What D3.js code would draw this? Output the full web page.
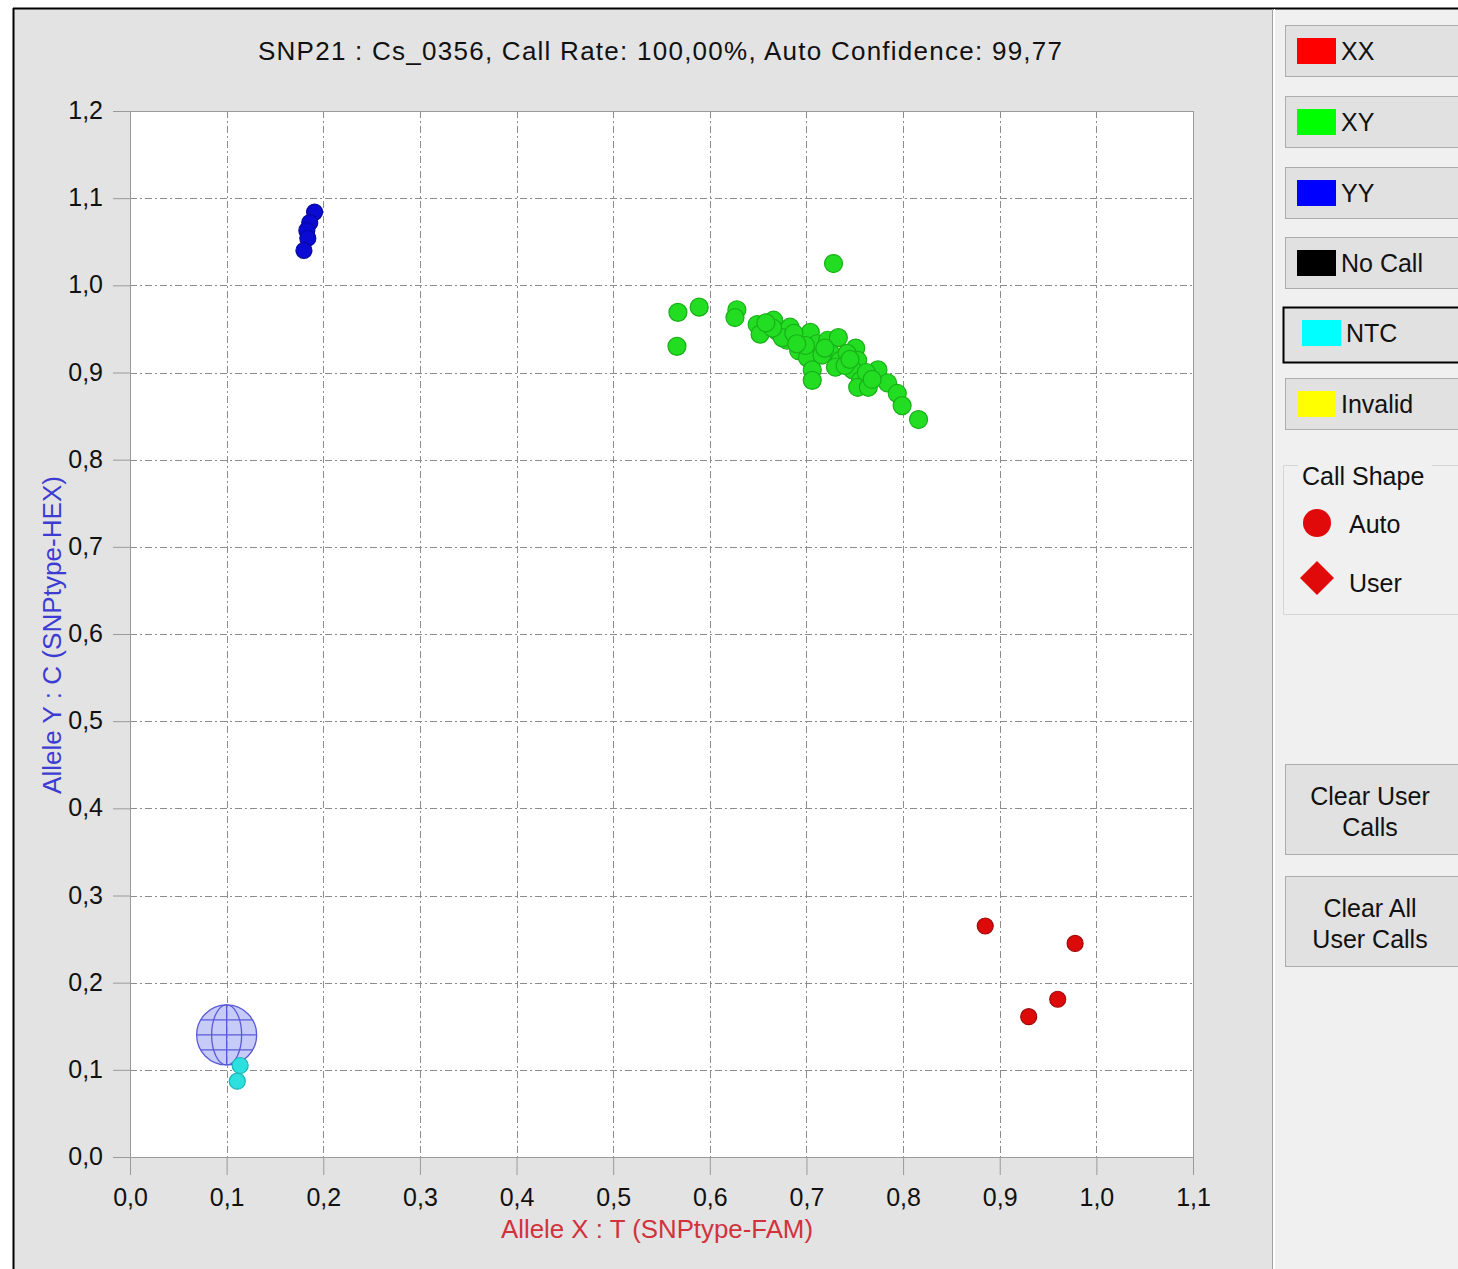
<!DOCTYPE html>
<html>
<head>
<meta charset="utf-8">
<script src="https://cdn.jsdelivr.net/npm/d3@7"></script>
<style>
  html, body { margin: 0; padding: 0; background: #ffffff; }
  svg { display: block; font-family: "Liberation Sans", Arial, sans-serif; }
</style>
</head>
<body>
<div id="chart"></div>
<script>
// chart data
const titleText = "SNP21 : Cs_0356, Call Rate: 100,00%, Auto Confidence: 99,77";
const xLabel = "Allele X : T (SNPtype-FAM)";
const yLabel = "Allele Y : C (SNPtype-HEX)";
const xTicks = [0, 0.1, 0.2, 0.3, 0.4, 0.5, 0.6, 0.7, 0.8, 0.9, 1.0, 1.1];
const yTicks = [0, 0.1, 0.2, 0.3, 0.4, 0.5, 0.6, 0.7, 0.8, 0.9, 1.0, 1.1, 1.2];

// XX calls (red)
const xxPoints = [
  [0.885, 0.265], [0.978, 0.245], [0.960, 0.181], [0.930, 0.161]
];
// YY calls (blue)
const yyPoints = [
  [0.191, 1.084], [0.186, 1.072], [0.183, 1.063], [0.184, 1.054], [0.180, 1.040]
];
// NTC (cyan)
const ntcPoints = [
  [0.114, 0.105], [0.111, 0.087]
];
// NTC centroid marker (globe)
const ntcCentroid = [0.100, 0.140];
// XY calls (green)
const xyPoints = [
  [0.728, 1.025], [0.567, 0.969], [0.589, 0.975], [0.566, 0.930],
  [0.628, 0.972], [0.626, 0.963], [0.649, 0.955], [0.652, 0.944],
  [0.666, 0.960], [0.670, 0.947], [0.683, 0.952], [0.680, 0.937],
  [0.694, 0.940], [0.704, 0.946], [0.711, 0.933], [0.692, 0.925],
  [0.701, 0.917], [0.706, 0.903], [0.706, 0.891], [0.722, 0.937],
  [0.733, 0.940], [0.725, 0.922], [0.735, 0.914], [0.730, 0.906],
  [0.751, 0.928], [0.753, 0.914], [0.748, 0.903], [0.756, 0.891],
  [0.753, 0.883], [0.764, 0.883], [0.774, 0.903], [0.784, 0.888],
  [0.794, 0.876], [0.799, 0.862], [0.816, 0.846], [0.675, 0.940],
  [0.699, 0.931], [0.716, 0.920], [0.742, 0.922], [0.665, 0.951],
  [0.687, 0.945], [0.740, 0.908], [0.762, 0.900], [0.658, 0.957],
  [0.690, 0.933], [0.719, 0.928], [0.745, 0.915], [0.768, 0.892]
];

// legend entries
const legendNames = ["XX", "XY", "YY", "No Call", "NTC", "Invalid"];
const legendColors = ["#ff0000", "#00ff00", "#0000ff", "#000000", "#00ffff", "#ffff00"];

// layout
const W = 1458, H = 1269;
const PLOT = { left: 130, right: 1193, top: 111, bottom: 1157 };
const fmt = (d) => d3.format(".1f")(d).replace(".", ",");

const svg = d3.select("#chart").append("svg")
  .attr("width", W).attr("height", H)
  .attr("viewBox", `0 0 ${W} ${H}`);

// window background + frame
svg.append("rect").attr("x", 0).attr("y", 0).attr("width", W).attr("height", H).attr("fill", "#ffffff");
svg.append("rect").attr("x", 14).attr("y", 9).attr("width", 1259).attr("height", H).attr("fill", "#e3e3e3");
svg.append("rect").attr("x", 1275).attr("y", 9).attr("width", W - 1275).attr("height", H).attr("fill", "#f0f0f0");
svg.append("line").attr("x1", 13).attr("x2", W).attr("y1", 8.5).attr("y2", 8.5).attr("stroke", "#000").attr("stroke-width", 2);
svg.append("line").attr("x1", 13.5).attr("x2", 13.5).attr("y1", 8).attr("y2", H).attr("stroke", "#000").attr("stroke-width", 2);
svg.append("line").attr("x1", 1272.5).attr("x2", 1272.5).attr("y1", 9).attr("y2", H).attr("stroke", "#a0a0a0");
svg.append("line").attr("x1", 1274.5).attr("x2", 1274.5).attr("y1", 9).attr("y2", H).attr("stroke", "#ffffff");

// scales
const x = d3.scaleLinear().domain([0, 1.1]).range([PLOT.left, PLOT.right]);
const y = d3.scaleLinear().domain([0, 1.2]).range([PLOT.bottom, PLOT.top]);

// plot background
svg.append("rect")
  .attr("x", PLOT.left).attr("y", PLOT.top)
  .attr("width", PLOT.right - PLOT.left).attr("height", PLOT.bottom - PLOT.top)
  .attr("fill", "#ffffff");

// grid lines (dash-dot)
const grid = svg.append("g").attr("stroke", "#8c8c8c").attr("stroke-width", 1)
  .attr("stroke-dasharray", "7,3,2,3");
grid.selectAll(".gx").data(xTicks.slice(1, -1)).join("line")
  .attr("x1", (d) => Math.round(x(d)) + 0.5).attr("x2", (d) => Math.round(x(d)) + 0.5)
  .attr("y1", PLOT.top).attr("y2", PLOT.bottom);
grid.selectAll(".gy").data(yTicks.slice(1, -1)).join("line")
  .attr("x1", PLOT.left).attr("x2", PLOT.right)
  .attr("y1", (d) => Math.round(y(d)) + 0.5).attr("y2", (d) => Math.round(y(d)) + 0.5);

// plot border
svg.append("rect")
  .attr("x", PLOT.left + 0.5).attr("y", PLOT.top + 0.5)
  .attr("width", PLOT.right - PLOT.left).attr("height", PLOT.bottom - PLOT.top)
  .attr("fill", "none").attr("stroke", "#9a9a9a");

// axes
const axisFont = "25px";
svg.append("g")
  .attr("transform", `translate(0,${PLOT.bottom})`)
  .call(d3.axisBottom(x).tickValues(xTicks).tickFormat(fmt).tickSize(18).tickSizeOuter(0).tickPadding(12))
  .call((g) => g.select(".domain").remove())
  .call((g) => g.selectAll(".tick line").attr("stroke", "#9a9a9a"))
  .call((g) => g.selectAll(".tick text").attr("font-size", axisFont).attr("fill", "#111")
    .attr("font-family", "Liberation Sans, Arial, sans-serif").attr("dy", "0.75em"));

svg.append("g")
  .attr("transform", `translate(${PLOT.left},0)`)
  .call(d3.axisLeft(y).tickValues(yTicks).tickFormat(fmt).tickSize(17).tickSizeOuter(0).tickPadding(10))
  .call((g) => g.select(".domain").remove())
  .call((g) => g.selectAll(".tick line").attr("stroke", "#9a9a9a"))
  .call((g) => g.selectAll(".tick text").attr("font-size", axisFont).attr("fill", "#111")
    .attr("font-family", "Liberation Sans, Arial, sans-serif").attr("dy", "0.3em"));

// title and axis labels
svg.append("text").text(titleText)
  .attr("x", 660).attr("y", 60).attr("text-anchor", "middle")
  .attr("font-size", "26px").attr("fill", "#111")
  .attr("textLength", 804).attr("lengthAdjust", "spacing");

svg.append("text").text(xLabel)
  .attr("x", 657).attr("y", 1238).attr("text-anchor", "middle")
  .attr("font-size", "26px").attr("fill", "#d2323c")
  .attr("textLength", 312).attr("lengthAdjust", "spacingAndGlyphs");

svg.append("text").text(yLabel)
  .attr("transform", "translate(61,635) rotate(-90)")
  .attr("text-anchor", "middle")
  .attr("font-size", "26px").attr("fill", "#3c3cd2")
  .attr("textLength", 318).attr("lengthAdjust", "spacingAndGlyphs");

// NTC centroid globe
const cx = x(ntcCentroid[0]), cy = y(ntcCentroid[1]), R = 30;
const globe = svg.append("g").attr("transform", `translate(${cx},${cy})`)
  .attr("fill", "none").attr("stroke", "#5a5ad8").attr("stroke-width", 1.3);
globe.append("circle").attr("r", R).attr("fill", "#b4b9f5").attr("fill-opacity", 0.75);
[-R * 0.5, 0, R * 0.5].forEach((dy) => {
  const hw = Math.sqrt(R * R - dy * dy);
  globe.append("line").attr("x1", -hw).attr("x2", hw).attr("y1", dy).attr("y2", dy);
});
globe.append("line").attr("x1", 0).attr("x2", 0).attr("y1", -R).attr("y2", R);
globe.append("ellipse").attr("rx", R * 0.5).attr("ry", R);

// points
function drawPoints(data, fill, stroke, r) {
  svg.append("g").selectAll("circle").data(data).join("circle")
    .attr("cx", (d) => x(d[0])).attr("cy", (d) => y(d[1])).attr("r", r)
    .attr("fill", fill).attr("stroke", stroke).attr("stroke-width", 1.2);
}
drawPoints(xyPoints, "#22dd22", "#19b019", 9);
drawPoints(yyPoints, "#0a0ad2", "#0808a0", 8);
drawPoints(xxPoints, "#dd0a0a", "#a00808", 8);
drawPoints(ntcPoints, "#2de0e0", "#1cb5b5", 8);

// right panel: legend buttons
const btnTop = [25, 96, 167, 237, 307, 378];
const legend = svg.append("g");
legendNames.forEach((name, i) => {
  const g = legend.append("g");
  const selected = name === "NTC";
  g.append("rect")
    .attr("x", selected ? 1283.5 : 1285.5).attr("y", btnTop[i] + 0.5)
    .attr("width", 200).attr("height", selected ? 55 : 51)
    .attr("fill", "#e1e1e1")
    .attr("stroke", selected ? "#000" : "#adadad").attr("stroke-width", selected ? 2 : 1);
  const sx = selected ? 1302 : 1297;
  g.append("rect").attr("x", sx).attr("y", btnTop[i] + 13)
    .attr("width", 39).attr("height", 26).attr("fill", legendColors[i]);
  g.append("text").text(name)
    .attr("x", sx + 44).attr("y", btnTop[i] + 35)
    .attr("font-size", "25px").attr("fill", "#111");
});

// call shape group
const shape = svg.append("g");
shape.append("path")
  .attr("d", "M1298,465.5 H1283.5 V614.5 H1470 M1432,465.5 H1470")
  .attr("fill", "none").attr("stroke", "#d5d5d5");
shape.append("text").text("Call Shape").attr("x", 1302).attr("y", 485)
  .attr("font-size", "25px").attr("fill", "#111");
shape.append("circle").attr("cx", 1317).attr("cy", 523).attr("r", 14).attr("fill", "#e00a0a");
shape.append("path").attr("d", "M1317,561 L1334,578 L1317,595 L1300,578 Z").attr("fill", "#e00a0a");
shape.append("text").text("Auto").attr("x", 1349).attr("y", 533)
  .attr("font-size", "25px").attr("fill", "#111");
shape.append("text").text("User").attr("x", 1349).attr("y", 592)
  .attr("font-size", "25px").attr("fill", "#111");

// clear buttons
const clearButtons = [["Clear User", "Calls"], ["Clear All", "User Calls"]];
const clearTop = [764, 876];
clearButtons.forEach((lines, i) => {
  svg.append("rect").attr("x", 1285.5).attr("y", clearTop[i] + 0.5)
    .attr("width", 200).attr("height", 90)
    .attr("fill", "#e1e1e1").attr("stroke", "#adadad");
  lines.forEach((t, j) => {
    svg.append("text").text(t)
      .attr("x", 1370).attr("y", clearTop[i] + 41 + j * 31)
      .attr("text-anchor", "middle")
      .attr("font-size", "25px").attr("fill", "#111");
  });
});
</script>
</body>
</html>
